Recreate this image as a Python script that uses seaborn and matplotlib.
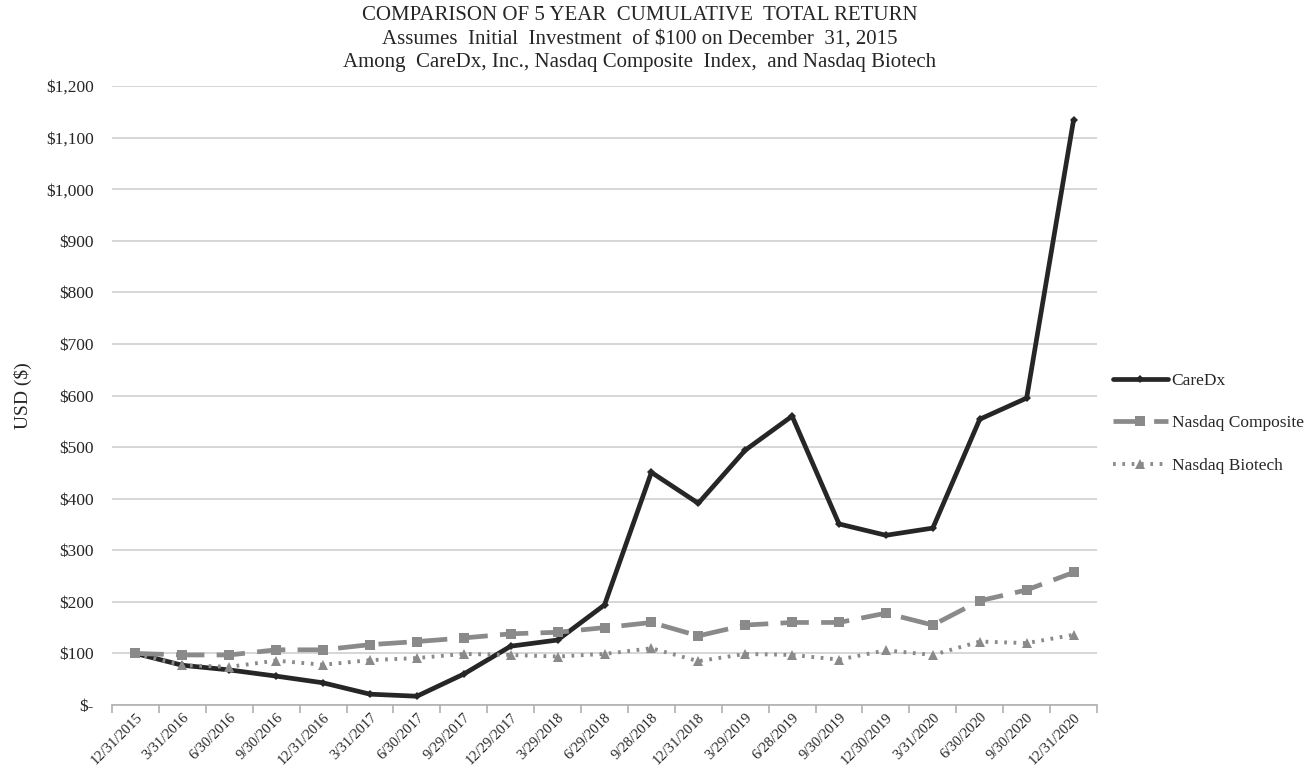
import matplotlib
matplotlib.use("Agg")
import matplotlib.pyplot as plt
import seaborn as sns
import pandas as pd
import numpy as np
from matplotlib.ticker import FuncFormatter, FixedLocator

dates = ["12/31/2015", "3/31/2016", "6/30/2016", "9/30/2016", "12/31/2016",
         "3/31/2017", "6/30/2017", "9/29/2017", "12/29/2017", "3/29/2018",
         "6/29/2018", "9/28/2018", "12/31/2018", "3/29/2019", "6/28/2019",
         "9/30/2019", "12/30/2019", "3/31/2020", "6/30/2020", "9/30/2020",
         "12/31/2020"]
caredx = [100, 77, 68, 56, 43, 21, 17, 60, 114, 126, 194, 451, 391, 494, 560,
          351, 329, 343, 554, 595, 1134]
nasdaq_comp = [100, 97, 97, 107, 107, 117, 123, 130, 138, 141, 150, 160, 134,
               155, 160, 160, 178, 155, 202, 223, 257]
nasdaq_bio = [100, 77, 74, 86, 78, 87, 91, 99, 97, 94, 99, 110, 85, 99, 97,
              88, 106, 97, 123, 120, 136]
series_names = ["CareDx", "Nasdaq Composite", "Nasdaq Biotech"]

sns.set_theme(style="white")
plt.rcParams['font.family'] = ['Liberation Serif', 'DejaVu Serif']

idx = np.arange(len(dates))
df = pd.DataFrame({
    "idx": np.concatenate([idx, idx, idx]),
    "value": caredx + nasdaq_comp + nasdaq_bio,
    "series": [series_names[0]] * len(dates) + [series_names[1]] * len(dates)
              + [series_names[2]] * len(dates),
})

fig = plt.figure(figsize=(13.12, 7.73), dpi=100)
ax = fig.add_axes([112/1312, 1 - 705/773, (1097-112)/1312, (705-86)/773])

palette = {"CareDx": "#262626", "Nasdaq Composite": "#8a8a8a", "Nasdaq Biotech": "#8a8a8a"}
dashes = {"CareDx": "", "Nasdaq Composite": (6, 2.6), "Nasdaq Biotech": (0.7, 1.7)}
markers = {"CareDx": "D", "Nasdaq Composite": "s", "Nasdaq Biotech": "^"}
widths = {"CareDx": 3.4, "Nasdaq Composite": 3.4, "Nasdaq Biotech": 2.8}
msizes = {"CareDx": 4.5, "Nasdaq Composite": 7.5, "Nasdaq Biotech": 6.5}

for name in series_names:
    sub = df[df["series"] == name]
    sns.lineplot(data=sub, x="idx", y="value", ax=ax, color=palette[name],
                 linewidth=widths[name], marker=markers[name],
                 markersize=msizes[name], markeredgewidth=0,
                 label=name)
    ln = ax.get_lines()[-1]
    if dashes[name]:
        ln.set_dashes(dashes[name])

ax.set_xlim(-0.5, len(dates) - 0.5)
ax.set_ylim(0, 1200)
ax.yaxis.set_major_locator(FixedLocator(np.arange(0, 1201, 100)))
ax.yaxis.set_major_formatter(FuncFormatter(lambda v, p: "$-" if v == 0 else f"${int(v):,}"))
ax.grid(axis="y", color="#d0d0d0", linewidth=1.2)
ax.grid(axis="x", visible=False)
for s in ["top", "right", "left"]:
    ax.spines[s].set_visible(False)
ax.spines["bottom"].set_color("#b0b0b0")
ax.spines["bottom"].set_linewidth(1.2)

ax.set_xticks(idx)
ax.set_xticklabels(dates, rotation=45, ha="right", rotation_mode="anchor", fontsize=10.5)
ax.set_xticks(np.arange(-0.5, len(dates), 1), minor=True)
ax.tick_params(axis="x", which="major", length=0, pad=4)
ax.tick_params(axis="x", which="minor", length=6, color="#b0b0b0", width=1.2, direction="out", bottom=True)
ax.tick_params(axis="y", length=0, labelsize=12.5, pad=13)
ax.set_xlabel("")
ax.set_ylabel("USD ($)", fontsize=14, labelpad=10)

for ypix, txt in [(15, "COMPARISON OF 5 YEAR  CUMULATIVE  TOTAL RETURN"),
                  (39, "Assumes  Initial  Investment  of $100 on December  31, 2015"),
                  (62, "Among  CareDx, Inc., Nasdaq Composite  Index,  and Nasdaq Biotech")]:
    fig.text(640/1312, 1 - ypix/773, txt, ha="center", va="center", fontsize=15)

leg = ax.legend(loc="center left", bbox_to_anchor=(1.0, 0.455), frameon=False,
                fontsize=12.5, handlelength=3.2, handletextpad=0.2, labelspacing=1.5,
                borderaxespad=0.5)
for h, name in zip(leg.get_lines(), series_names):
    if dashes[name]:
        h.set_dashes(dashes[name])

fig.savefig("out.png", dpi=100, facecolor="white")
